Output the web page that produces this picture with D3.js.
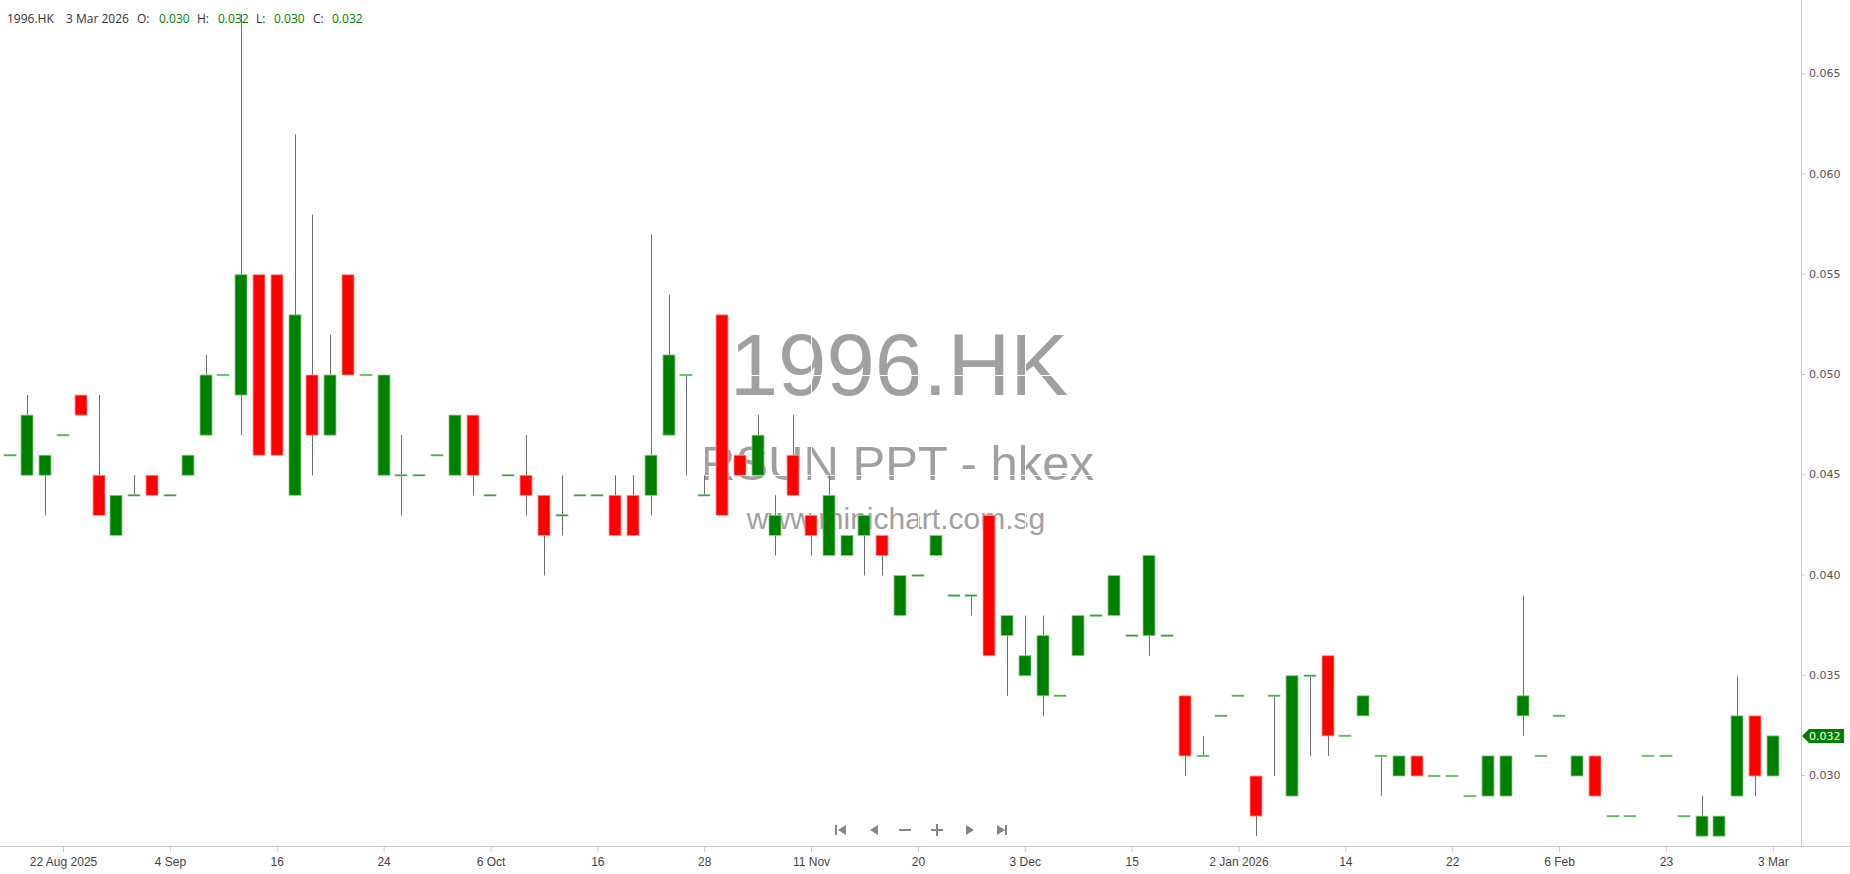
<!DOCTYPE html>
<html><head><meta charset="utf-8">
<script src="https://cdn.jsdelivr.net/npm/d3@7"></script>
<style>html,body{margin:0;padding:0;background:#fff;overflow:hidden}</style>
</head><body>
<svg id="c" width="1850" height="874"></svg>
<script>
// ---- data ----
const open = [
0.046,0.045,0.045,0.047,0.049,0.045,0.042,0.044,0.045,0.044,
0.045,0.047,0.050,0.049,0.055,0.055,0.044,0.050,0.047,0.055,
0.050,0.045,0.045,0.045,0.046,0.045,0.048,0.044,0.045,0.045,
0.044,0.043,0.044,0.044,0.044,0.044,0.044,0.047,0.050,0.044,
0.053,0.046,0.045,0.042,0.046,0.043,0.041,0.041,0.042,0.042,
0.038,0.040,0.041,0.039,0.039,0.043,0.037,0.035,0.034,0.034,
0.036,0.038,0.038,0.037,0.037,0.037,0.034,0.031,0.033,0.034,
0.030,0.034,0.029,0.035,0.036,0.032,0.033,0.031,0.030,0.031,
0.030,0.030,0.029,0.029,0.029,0.033,0.031,0.033,0.030,0.031,
0.028,0.028,0.031,0.031,0.028,0.027,0.027,0.029,0.033,0.030];
const high = [
0.046,0.049,0.046,0.047,0.049,0.049,0.044,0.045,0.045,0.044,
0.046,0.051,0.050,0.068,0.055,0.055,0.062,0.058,0.052,0.055,
0.050,0.050,0.047,0.045,0.046,0.048,0.048,0.044,0.045,0.047,
0.044,0.045,0.044,0.044,0.045,0.045,0.057,0.054,0.050,0.045,
0.053,0.046,0.048,0.044,0.048,0.043,0.045,0.042,0.043,0.042,
0.040,0.040,0.042,0.039,0.039,0.043,0.038,0.038,0.038,0.034,
0.038,0.038,0.040,0.037,0.041,0.037,0.034,0.032,0.033,0.034,
0.030,0.034,0.035,0.035,0.036,0.032,0.034,0.031,0.031,0.031,
0.030,0.030,0.029,0.031,0.031,0.039,0.031,0.033,0.031,0.031,
0.028,0.028,0.031,0.031,0.028,0.029,0.028,0.035,0.033,0.032];
const low = [
0.046,0.045,0.043,0.047,0.048,0.043,0.042,0.044,0.044,0.044,
0.045,0.047,0.050,0.047,0.046,0.046,0.044,0.045,0.047,0.050,
0.050,0.045,0.043,0.045,0.046,0.045,0.044,0.044,0.045,0.043,
0.040,0.042,0.044,0.044,0.042,0.042,0.043,0.047,0.045,0.044,
0.043,0.045,0.045,0.041,0.044,0.041,0.041,0.041,0.040,0.040,
0.038,0.040,0.041,0.039,0.038,0.036,0.034,0.035,0.033,0.034,
0.036,0.038,0.038,0.037,0.036,0.037,0.030,0.031,0.033,0.034,
0.027,0.030,0.029,0.031,0.031,0.032,0.033,0.029,0.030,0.030,
0.030,0.030,0.029,0.029,0.029,0.032,0.031,0.033,0.030,0.029,
0.028,0.028,0.031,0.031,0.028,0.027,0.027,0.029,0.029,0.030];
const close = [
0.046,0.048,0.046,0.047,0.048,0.043,0.044,0.044,0.044,0.044,
0.046,0.050,0.050,0.055,0.046,0.046,0.053,0.047,0.050,0.050,
0.050,0.050,0.045,0.045,0.046,0.048,0.045,0.044,0.045,0.044,
0.042,0.043,0.044,0.044,0.042,0.042,0.046,0.051,0.050,0.044,
0.043,0.045,0.047,0.043,0.044,0.042,0.044,0.042,0.043,0.041,
0.040,0.040,0.042,0.039,0.039,0.036,0.038,0.036,0.037,0.034,
0.038,0.038,0.040,0.037,0.041,0.037,0.031,0.031,0.033,0.034,
0.028,0.034,0.035,0.035,0.032,0.032,0.034,0.031,0.031,0.030,
0.030,0.030,0.029,0.031,0.031,0.034,0.031,0.033,0.031,0.029,
0.028,0.028,0.031,0.031,0.028,0.028,0.028,0.033,0.030,0.032];
const tickIndex = [3,9,15,21,27,33,39,45,51,57,63,69,75,81,87,93,99];
const tickLabels = ["22 Aug 2025","4 Sep","16","24","6 Oct","16","28","11 Nov","20","3 Dec","15","2 Jan 2026","14","22","6 Feb","23","3 Mar"];
const priceTicks = [0.030,0.035,0.040,0.045,0.050,0.055,0.060,0.065];
const symbol = "1996.HK", lastDate = "3 Mar 2026";
const nameText = "RSUN PPT - hkex", siteText = "www.minichart.com.sg";

// ---- layout ----
const W = 1850, H = 874, axisX = 1801, axisY = 846;
const GREEN = "#008000", RED = "#ff0000";
const svg = d3.select("#c");
svg.append("rect").attr("width", W).attr("height", H).attr("fill", "#fff");

const n = open.length;
const x = d3.scaleLinear().domain([0, n - 1]).range([9.6, 1772.8]);
const y = d3.scaleLinear().domain([0.026509, 0.068703]).range([axisY, 0]);

// watermark
const wm = svg.append("g").attr("fill", "#a0a0a0").attr("font-family", "'Liberation Sans', Arial, sans-serif").attr("text-anchor", "middle");
wm.append("text").attr("x", 899).attr("y", 395).attr("font-size", 87).text(symbol);
wm.append("text").attr("x", 897).attr("y", 480).attr("font-size", 49).text(nameText);
wm.append("text").attr("x", 896).attr("y", 529).attr("font-size", 30).text(siteText);

// white grid (only visible over watermark)
const grid = svg.append("g").attr("stroke", "#fff").attr("stroke-width", 1);
grid.selectAll("line.h").data(priceTicks).join("line").attr("class", "h")
  .attr("x1", 0).attr("x2", axisX).attr("y1", d => Math.round(y(d)) + 0.5).attr("y2", d => Math.round(y(d)) + 0.5);
grid.selectAll("line.v").data(tickIndex).join("line").attr("class", "v")
  .attr("y1", 0).attr("y2", axisY).attr("x1", d => Math.round(x(d)) + 0.5).attr("x2", d => Math.round(x(d)) + 0.5);

// header
const hdr = svg.append("g").attr("font-family", "'Open Sans', sans-serif").attr("font-size", 12);
const hdrItems = [
  [7, symbol, "#333"], [66, lastDate, "#333"],
  [137, "O:", "#333"], [159, d3.format(".3f")(open[n-1]), GREEN],
  [197, "H:", "#333"], [218, d3.format(".3f")(high[n-1]), GREEN],
  [256, "L:", "#333"], [274, d3.format(".3f")(low[n-1]), GREEN],
  [313, "C:", "#333"], [332, d3.format(".3f")(close[n-1]), GREEN]];
hdr.selectAll("text").data(hdrItems).join("text")
  .attr("x", d => d[0]).attr("y", 23).attr("fill", d => d[2]).text(d => d[1]);

// candles
const idx = d3.range(n);
const bw = 13;
const cg = svg.append("g");
cg.selectAll("line.wick").data(idx.filter(i => high[i] !== low[i])).join("line").attr("class", "wick")
  .attr("x1", i => Math.round(x(i)) + 0.5).attr("x2", i => Math.round(x(i)) + 0.5)
  .attr("y1", i => y(high[i])).attr("y2", i => y(low[i]))
  .attr("stroke", "#6e6e6e").attr("stroke-width", 1);
cg.selectAll("rect.body").data(idx).join("rect").attr("class", "body")
  .attr("x", i => Math.round(x(i)) - 6)
  .attr("width", bw - 1)
  .attr("y", i => close[i] === open[i] ? y(close[i]) - 0.7 : y(Math.max(open[i], close[i])))
  .attr("height", i => close[i] === open[i] ? 1.4 : Math.abs(y(open[i]) - y(close[i])))
  .attr("fill", i => close[i] >= open[i] ? GREEN : RED)
  .attr("stroke", i => close[i] >= open[i] ? "#8fc98f" : "#ff9a9a")
  .attr("stroke-width", 0.8);

// x axis
const xAxis = d3.axisBottom(x).tickValues(tickIndex).tickSize(6).tickPadding(5)
  .tickFormat((d, k) => tickLabels[k]);
const gx = svg.append("g").attr("transform", `translate(0,${axisY})`).call(xAxis);
gx.select(".domain").remove();
gx.selectAll(".tick line").attr("stroke", "#c8c8c8");
gx.selectAll(".tick text").attr("fill", "#444").attr("font-size", 12).attr("font-family", "'Liberation Sans', Arial, sans-serif");
svg.append("line").attr("x1", 0).attr("x2", W).attr("y1", axisY + 0.5).attr("y2", axisY + 0.5).attr("stroke", "#c8c8c8");

// y axis
const yAxis = d3.axisRight(y).tickValues(priceTicks).tickSize(4).tickPadding(4).tickFormat(d3.format(".3f"));
const gy = svg.append("g").attr("transform", `translate(${axisX},-1)`).call(yAxis);
gy.select(".domain").remove();
gy.selectAll(".tick line").attr("stroke", "#c8c8c8");
gy.selectAll(".tick text").attr("fill", "#555").attr("font-size", 11).attr("font-family", "'DejaVu Sans', sans-serif");
svg.append("line").attr("x1", axisX + 0.5).attr("x2", axisX + 0.5).attr("y1", 0).attr("y2", axisY).attr("stroke", "#c8c8c8");

// last price tag
const ly = y(close[n-1]);
svg.append("path")
  .attr("d", `M${axisX+1},${ly} L${axisX+8},${ly-7} L${axisX+43},${ly-7} L${axisX+43},${ly+7} L${axisX+8},${ly+7} Z`)
  .attr("fill", GREEN);
svg.append("text").attr("x", axisX + 8).attr("y", ly + 4).attr("fill", "#fff")
  .attr("font-size", 11).attr("font-family", "'DejaVu Sans', sans-serif").text(d3.format(".3f")(close[n-1]));

// navigation icons
const nav = svg.append("g").attr("fill", "#858585");
const cy = 830;
nav.append("rect").attr("x", 835).attr("y", cy-5).attr("width", 2).attr("height", 10);
nav.append("path").attr("d", `M846,${cy-5} L846,${cy+5} L838,${cy} Z`);
nav.append("path").attr("d", `M878,${cy-5} L878,${cy+5} L870,${cy} Z`);
nav.append("rect").attr("x", 899).attr("y", cy-1).attr("width", 12).attr("height", 2);
nav.append("rect").attr("x", 931).attr("y", cy-1).attr("width", 12).attr("height", 2);
nav.append("rect").attr("x", 936).attr("y", cy-6).attr("width", 2).attr("height", 12);
nav.append("path").attr("d", `M966,${cy-5} L966,${cy+5} L974,${cy} Z`);
nav.append("path").attr("d", `M997,${cy-5} L997,${cy+5} L1005,${cy} Z`);
nav.append("rect").attr("x", 1005).attr("y", cy-5).attr("width", 2).attr("height", 10);
</script>
</body></html>
